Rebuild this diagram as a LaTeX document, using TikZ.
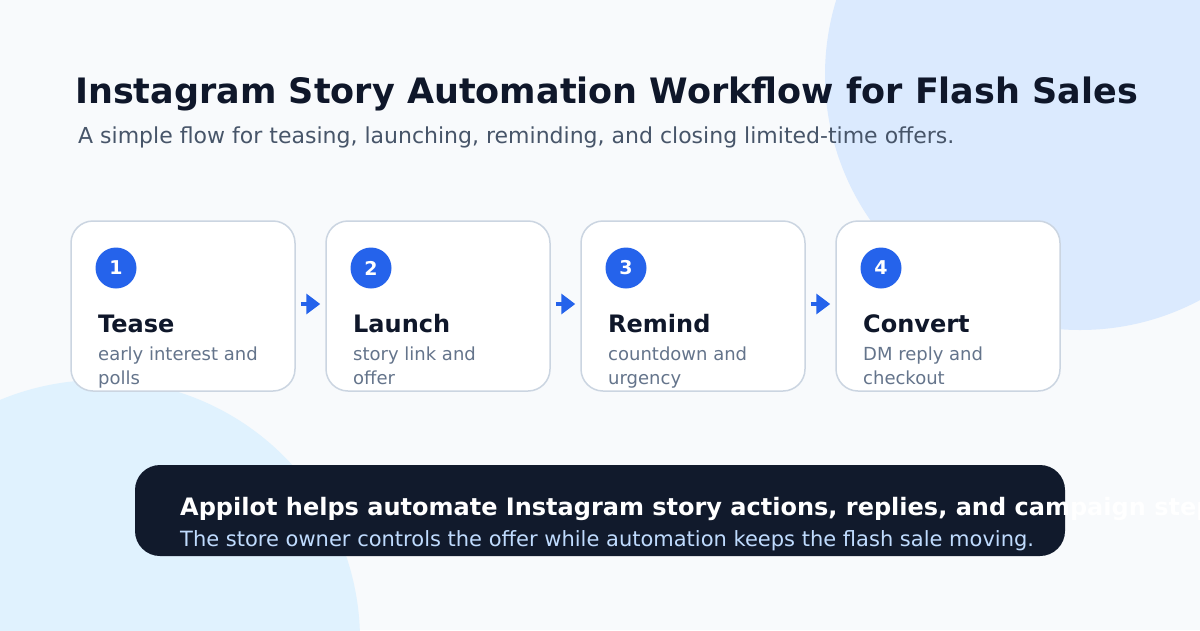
\documentclass[tikz,border=0pt]{standalone}
\usepackage{fontspec}
\setmainfont{DejaVu Sans}
\usepackage{xcolor}
\usetikzlibrary{arrows.meta,positioning}
\definecolor{pagebg}{HTML}{F8FAFC}
\definecolor{glowblue}{HTML}{DBEAFE}
\definecolor{glowsky}{HTML}{E0F2FE}
\definecolor{cardline}{HTML}{CBD5E1}
\definecolor{stepblue}{HTML}{2563EB}
\definecolor{ink}{HTML}{0F172A}
\definecolor{subgray}{HTML}{475569}
\definecolor{notegray}{HTML}{64748B}
\definecolor{bannerdark}{HTML}{111A2C}
\definecolor{bannerlight}{HTML}{BFDBFE}
\tikzset{
  stepcard/.style={
    rectangle,
    rounded corners=22pt,
    draw=cardline,
    line width=1.5pt,
    fill=white,
    minimum width=224pt,
    minimum height=170pt,
    inner sep=0pt
  },
  stepnum/.style={
    circle,
    fill=stepblue,
    minimum size=41pt,
    inner sep=0pt,
    text=white,
    font=\fontsize{19}{22}\selectfont\bfseries
  },
  steptitle/.style={
    anchor=base west,
    inner sep=0pt,
    text=ink,
    font=\fontsize{24}{28}\selectfont\bfseries
  },
  stepnote/.style={
    anchor=base west,
    inner sep=0pt,
    align=left,
    text=notegray,
    font=\fontsize{18}{24}\selectfont
  },
  steparrow/.style={
    -{Triangle[length=14pt,width=20pt]},
    line width=4pt,
    draw=stepblue,
    shorten <=5pt,
    shorten >=5pt
  }
}

\begin{document}
\begin{tikzpicture}[x=1pt,y=-1pt]
\fill[pagebg] (0,0) rectangle (1200,630);
\useasboundingbox (0,0) rectangle (1200,630);
\begin{scope}
\clip (0,0) rectangle (1200,630);
\fill[glowblue] (1080,75) circle (255pt);
\fill[glowsky] (100,640) circle (260pt);
\end{scope}

% heading
\node[anchor=base west, inner sep=0pt, text=ink, font=\fontsize{35}{40}\selectfont\bfseries] (heading) at (75,103) {Instagram Story Automation Workflow for Flash Sales};
\node[anchor=base west, inner sep=0pt, text=subgray, font=\fontsize{22}{26}\selectfont] (subheading) at (78,143) {A simple flow for teasing, launching, reminding, and closing limited-time offers.};

% steps
\node[stepcard] (card1) at (183,306) {};
\node[stepcard] (card2) at (438,306) {};
\node[stepcard] (card3) at (693,306) {};
\node[stepcard] (card4) at (948,306) {};

\node[stepnum] (num1) at (116,268) {1};
\node[stepnum] (num2) at (371,268) {2};
\node[stepnum] (num3) at (626,268) {3};
\node[stepnum] (num4) at (881,268) {4};

\node[steptitle] (tease) at (98,332) {Tease};
\node[steptitle] (launch) at (353,332) {Launch};
\node[steptitle] (remind) at (608,332) {Remind};
\node[steptitle] (convert) at (863,332) {Convert};

% base of a two-line note is its last line
\node[stepnote] (teasenote) at (98,384) {early interest and\\polls};
\node[stepnote] (launchnote) at (353,384) {story link and\\offer};
\node[stepnote] (remindnote) at (608,384) {countdown and\\urgency};
\node[stepnote] (convertnote) at (863,384) {DM reply and\\checkout};

\draw[steparrow] ([yshift=2pt]card1.east) -- ([yshift=2pt]card2.west);
\draw[steparrow] ([yshift=2pt]card2.east) -- ([yshift=2pt]card3.west);
\draw[steparrow] ([yshift=2pt]card3.east) -- ([yshift=2pt]card4.west);

% banner
\node[rectangle, rounded corners=25pt, fill=bannerdark, minimum width=930pt, minimum height=91pt, inner sep=0pt] (banner) at (600,510.5) {};
\node[anchor=base west, inner sep=0pt, text=white, font=\fontsize{24}{28}\selectfont\bfseries] (bannerhead) at (180,515) {Appilot helps automate Instagram story actions, replies, and campaign steps.};
\node[anchor=base west, inner sep=0pt, text=bannerlight, font=\fontsize{21}{25}\selectfont] (bannernote) at (180,546) {The store owner controls the offer while automation keeps the flash sale moving.};
\end{tikzpicture}
\end{document}
